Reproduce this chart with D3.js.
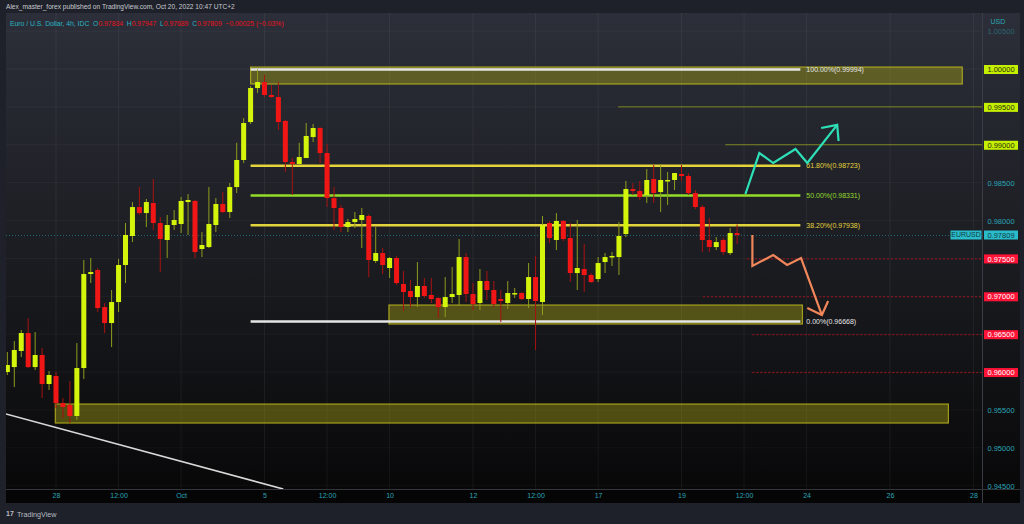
<!DOCTYPE html>
<html><head><meta charset="utf-8">
<script src="https://cdn.jsdelivr.net/npm/d3@7"></script>
<style>html,body{margin:0;padding:0;background:#1e212a;}svg{display:block;font-family:"Liberation Sans",Arial,sans-serif;}</style>
</head><body><svg id="c" width="1024" height="524"></svg>
<script>
// ---- data ----
const firstBar = -7; // bar index of first candle (0 = Sep 28 00:00, 4h bars, weekends skipped)
const opens = [0.96000,0.96066,0.96278,0.96515,0.96066,0.96225,0.95842,0.95948,0.95591,0.95565,
0.95420,0.96053,0.97294,0.97347,0.96858,0.96647,0.96924,0.97413,0.97796,0.98178,
0.98099,0.98231,0.97967,0.97743,0.97941,0.97954,0.98244,0.98258,0.97624,0.97650,
0.97941,0.98218,0.98112,0.98442,0.98799,0.99300,0.99749,0.99828,0.99657,0.99630,
0.99314,0.98772,0.98746,0.98825,0.99102,0.99221,0.98891,0.98297,0.98165,0.97914,
0.97980,0.98007,0.98060,0.97466,0.97571,0.97373,0.97505,0.97162,0.97070,0.96990,
0.97136,0.97017,0.96977,0.96858,0.96990,0.97017,0.97518,0.97030,0.96911,0.97202,
0.97083,0.96964,0.96911,0.97030,0.97043,0.96964,0.97254,0.96924,0.97967,0.97743,
0.97994,0.97769,0.97307,0.97360,0.97281,0.97228,0.97452,0.97518,0.97518,0.97822,
0.98416,0.98390,0.98337,0.98548,0.98376,0.98522,0.98535,0.98614,0.98588,0.98363,
0.98178,0.97743,0.97650,0.97743,0.97571,0.97834];
const highs = [0.96264,0.96410,0.96555,0.96713,0.96528,0.96317,0.96014,0.96000,0.95657,0.95882,
0.96383,0.97479,0.97505,0.97373,0.96911,0.97083,0.97492,0.97967,0.98244,0.98442,
0.98284,0.98548,0.98046,0.98073,0.98139,0.98310,0.98350,0.98271,0.97848,0.98442,
0.98297,0.98376,0.98495,0.99026,0.99353,0.99776,0.99994,0.99921,0.99789,0.99828,
0.99327,0.98825,0.99026,0.99287,0.99274,0.99234,0.99012,0.98442,0.98205,0.98020,
0.98112,0.98165,0.98086,0.97914,0.97637,0.97518,0.97532,0.97334,0.97215,0.97452,
0.97241,0.97241,0.96990,0.97254,0.97386,0.97756,0.97571,0.97175,0.97360,0.97334,
0.97202,0.97083,0.97202,0.97109,0.97056,0.97439,0.97532,0.98060,0.97994,0.98099,
0.98007,0.97967,0.98007,0.97690,0.97307,0.97518,0.97571,0.97584,0.97980,0.98522,
0.98495,0.98522,0.98680,0.98733,0.98746,0.98640,0.98627,0.98733,0.98627,0.98403,
0.98205,0.98033,0.97782,0.97769,0.97901,0.97947];
const lows = [0.95961,0.95802,0.96198,0.96053,0.96027,0.95657,0.95763,0.95525,0.95393,0.95327,
0.95367,0.95908,0.97175,0.96792,0.96515,0.96330,0.96792,0.97175,0.97716,0.98073,
0.97914,0.97875,0.97320,0.97505,0.97875,0.97835,0.97809,0.97505,0.97518,0.97637,
0.97848,0.98099,0.98033,0.98363,0.98759,0.99274,0.99683,0.99630,0.99617,0.99195,
0.98640,0.98337,0.98733,0.98825,0.99036,0.98759,0.98178,0.97875,0.97848,0.97848,
0.97901,0.97637,0.97254,0.97439,0.97294,0.97241,0.97149,0.96806,0.96858,0.96858,
0.96977,0.96911,0.96713,0.96726,0.96911,0.96885,0.96924,0.96819,0.96819,0.96951,
0.96858,0.96660,0.96832,0.96977,0.96951,0.96845,0.96291,0.96753,0.97703,0.97611,
0.97730,0.97188,0.97083,0.97056,0.97175,0.97188,0.97307,0.97400,0.97281,0.97782,
0.98337,0.98271,0.98231,0.98231,0.98112,0.98205,0.98403,0.98522,0.98337,0.98152,
0.97584,0.97584,0.97611,0.97545,0.97545,0.97689];
const closes = [0.96093,0.96291,0.96515,0.96066,0.96225,0.95842,0.95961,0.95591,0.95538,0.95420,
0.96053,0.97294,0.97320,0.96845,0.96647,0.96924,0.97413,0.97809,0.98178,0.98099,
0.98244,0.97967,0.97756,0.97941,0.98007,0.98258,0.98271,0.97584,0.97677,0.97954,
0.98218,0.98112,0.98442,0.98799,0.99287,0.99749,0.99828,0.99657,0.99630,0.99300,
0.98772,0.98746,0.98838,0.99116,0.99221,0.98891,0.98297,0.98165,0.97914,0.97980,
0.98020,0.98073,0.97479,0.97571,0.97413,0.97505,0.97175,0.97056,0.96990,0.97136,
0.97004,0.96964,0.96858,0.96990,0.97030,0.97518,0.97030,0.96898,0.97202,0.97083,
0.96898,0.96938,0.97043,0.97043,0.96964,0.97254,0.96938,0.97941,0.97769,0.97994,
0.97756,0.97307,0.97373,0.97281,0.97188,0.97439,0.97518,0.97532,0.97796,0.98416,
0.98390,0.98310,0.98535,0.98363,0.98535,0.98535,0.98627,0.98588,0.98363,0.98178,
0.97743,0.97650,0.97716,0.97584,0.97835,0.97809];

const timeTickBars = [0,9,18,30,39,48,60,69,78,90,99,108,120,132];
const timeTickLabels = ["28","12:00","Oct","5","12:00","10","12","12:00","17","19","12:00","24","26","28"];
const priceTicks = [0.945,0.950,0.955,0.960,0.965,0.970,0.975,0.980,0.985,0.990,0.995,1.000,1.005];
const limeLevels = [1.000,0.995,0.990];
const redLevels = [0.975,0.970,0.965,0.960];

const fibPrices = [0.99994,0.98723,0.98331,0.97938,0.96668];
const fibLabels = ["100.00%(0.99994)","61.80%(0.98723)","50.00%(0.98331)","38.20%(0.97938)","0.00%(0.96668)"];
const fibColors = ["#e6e6e6","#e3d43c","#95dc28","#e3d43c","#e6e6e6"];
const fibStartBar = 28, fibEndBar = 107.1;

// zones: [startBar, endBar, topPrice, bottomPrice]
const zoneStart = [28, 47.9, -0.1];
const zoneEnd = [130.4, 107.4, 128.4];
const zoneTop = [1.00026, 0.96885, 0.95578];
const zoneBottom = [0.99802, 0.96634, 0.95327];

// thin olive levels and red dotted levels
const oliveLevels = [0.995, 0.990];
const oliveStartBars = [80.9, 96.3];
const dottedLevels = [0.975, 0.970, 0.965, 0.960];
const dottedStartBars = [99.4, 93.1, 100.2, 100.2];

const lastPrice = 0.97809;

// trend line (bar, price)
const trendBars = [-7.2, 32.7];
const trendPrices = [0.95446, 0.94456];

// projected paths (bar, price)
const upBars = [99.2, 101.2, 103.2, 106.4, 108.1, 112.4];
const upPrices = [0.98350, 0.98891, 0.98759, 0.98944, 0.98759, 0.99262];
const upHeadBars = [110.1, 112.4, 112.6];
const upHeadPrices = [0.99221, 0.99262, 0.99050];
const downBars = [100.2, 100.2, 103.2, 105.2, 107.2, 110.2];
const downPrices = [0.97809, 0.97400, 0.97545, 0.97413, 0.97505, 0.96753];
const downHeadBars = [108.1, 110.2, 111.1];
const downHeadPrices = [0.96845, 0.96753, 0.96938];

// ---- drawing ----
const svg = d3.select("#c");
const L = 6, R = 982.5, T = 13, B = 489;
const x = d3.scaleLinear().domain([0, 132]).range([56, 973.4]);
const y = d3.scaleLinear().domain([0.945, 1.0]).range([485.7, 69]);

const defs = svg.append("defs");
const g1 = defs.append("linearGradient").attr("id","bg").attr("x1",0).attr("y1",0).attr("x2",0).attr("y2",1);
g1.append("stop").attr("offset","0%").attr("stop-color","#2c2f39");
g1.append("stop").attr("offset","50%").attr("stop-color","#1c1d22");
g1.append("stop").attr("offset","100%").attr("stop-color","#080809");
defs.append("clipPath").attr("id","clip").append("rect").attr("x",L).attr("y",T).attr("width",R-L).attr("height",B-T);

// frame
svg.append("rect").attr("width",1024).attr("height",524).attr("fill","#1e212a");
svg.append("rect").attr("x",L).attr("y",T).attr("width",1020-L).attr("height",B-T).attr("fill","url(#bg)");
svg.append("rect").attr("x",L).attr("y",B).attr("width",1020-L).attr("height",14).attr("fill","#050506");

const plot = svg.append("g").attr("clip-path","url(#clip)");

// grid
plot.selectAll(".vg").data(timeTickBars).join("line")
  .attr("x1",d=>x(d)).attr("x2",d=>x(d)).attr("y1",T).attr("y2",B)
  .attr("stroke","rgba(255,255,255,0.055)").attr("stroke-width",1);
plot.selectAll(".hg").data(priceTicks).join("line")
  .attr("x1",L).attr("x2",R).attr("y1",d=>y(d)).attr("y2",d=>y(d))
  .attr("stroke","rgba(255,255,255,0.04)").attr("stroke-width",1);

// zones
plot.selectAll(".zone").data(zoneStart).join("rect")
  .attr("x",(d,i)=>x(d)).attr("width",(d,i)=>x(zoneEnd[i])-x(d))
  .attr("y",(d,i)=>y(zoneTop[i])).attr("height",(d,i)=>y(zoneBottom[i])-y(zoneTop[i]))
  .attr("fill","rgba(170,165,20,0.42)").attr("stroke","rgba(200,195,30,0.75)").attr("stroke-width",1.2);

// olive thin lines
plot.selectAll(".ol").data(oliveLevels).join("line")
  .attr("x1",(d,i)=>x(oliveStartBars[i])).attr("x2",R).attr("y1",d=>y(d)).attr("y2",d=>y(d))
  .attr("stroke","rgba(150,165,30,0.75)").attr("stroke-width",1);
// red dotted
plot.selectAll(".rd").data(dottedLevels).join("line")
  .attr("x1",(d,i)=>x(dottedStartBars[i])).attr("x2",R).attr("y1",d=>y(d)+0.5).attr("y2",d=>y(d)+0.5)
  .attr("stroke","#a8101c").attr("stroke-width",1).attr("stroke-dasharray","2,2");
// last price line
plot.append("line").attr("x1",L).attr("x2",R).attr("y1",y(lastPrice)+0.5).attr("y2",y(lastPrice)+0.5)
  .attr("stroke","#1f6a73").attr("stroke-width",1).attr("stroke-dasharray","1,2");

// fib lines
plot.selectAll(".fib").data(fibPrices).join("line")
  .attr("x1",x(fibStartBar)).attr("x2",x(fibEndBar)).attr("y1",d=>y(d)).attr("y2",d=>y(d))
  .attr("stroke",(d,i)=>fibColors[i]).attr("stroke-width",2.4);
plot.selectAll(".fibt").data(fibPrices).join("text")
  .attr("x",x(fibEndBar)+6).attr("y",d=>y(d)).attr("dy","0.35em")
  .attr("fill",(d,i)=>fibColors[i]).attr("font-size","7px").text((d,i)=>fibLabels[i]);

// trend line
plot.append("line").attr("x1",x(trendBars[0])).attr("y1",y(trendPrices[0]))
  .attr("x2",x(trendBars[1])).attr("y2",y(trendPrices[1]))
  .attr("stroke","#d8d8d8").attr("stroke-width",1.6);

// candles
const candles = opens.map((o,i)=>({i:firstBar+i,o,h:highs[i],l:lows[i],c:closes[i]}));
const up = "#d4f40c", dn = "#f01616";
plot.selectAll(".wick").data(candles).join("line")
  .attr("x1",d=>x(d.i)).attr("x2",d=>x(d.i)).attr("y1",d=>y(d.h)).attr("y2",d=>y(d.l))
  .attr("stroke",d=>d.c>=d.o?"#8f9c1c":"#a81212").attr("stroke-width",1);
plot.selectAll(".body").data(candles).join("rect")
  .attr("x",d=>x(d.i)-2.5).attr("width",5)
  .attr("y",d=>y(Math.max(d.o,d.c))).attr("height",d=>Math.max(1.5,Math.abs(y(d.o)-y(d.c))))
  .attr("fill",d=>d.c>=d.o?up:dn);

// projection arrows
const line = d3.line().x(d=>x(d[0])).y(d=>y(d[1]));
plot.append("path").attr("d",line(upBars.map((b,i)=>[b,upPrices[i]]))).attr("fill","none")
  .attr("stroke","#2ee0b8").attr("stroke-width",2.2).attr("stroke-linejoin","miter");
plot.append("path").attr("d",line(upHeadBars.map((b,i)=>[b,upHeadPrices[i]]))).attr("fill","none")
  .attr("stroke","#2ee0b8").attr("stroke-width",2.2);
plot.append("path").attr("d",line(downBars.map((b,i)=>[b,downPrices[i]]))).attr("fill","none")
  .attr("stroke","#f0875a").attr("stroke-width",2.2);
plot.append("path").attr("d",line(downHeadBars.map((b,i)=>[b,downHeadPrices[i]]))).attr("fill","none")
  .attr("stroke","#f0875a").attr("stroke-width",2.2);

// separators
svg.append("line").attr("x1",R).attr("x2",R).attr("y1",T).attr("y2",B+14).attr("stroke","#3a3d46");
svg.append("line").attr("x1",L).attr("x2",1020).attr("y1",B+0.5).attr("y2",B+0.5).attr("stroke","#34363d");

// price axis
const pa = svg.append("g").attr("transform",`translate(${R},0)`)
  .call(d3.axisRight(y).tickValues(priceTicks).tickFormat(d3.format(".5f")).tickSize(0).tickPadding(0));
pa.select(".domain").remove();
pa.selectAll(".tick").each(function(d){
  const t = d3.select(this);
  const isLime = limeLevels.some(v=>Math.abs(v-d)<1e-6);
  const isRed = redLevels.some(v=>Math.abs(v-d)<1e-6);
  if(isLime||isRed){
    t.insert("rect","text").attr("x",1.5).attr("y",-4.5).attr("width",34).attr("height",9)
      .attr("fill",isLime?"#c4f000":"#ff1438");
  }
  t.select("text").attr("x",18.5).attr("text-anchor","middle").attr("dy","0.35em")
    .attr("font-size","7.5px").attr("font-family","Liberation Sans, Arial, sans-serif")
    .attr("fill",isLime?"#2a2a10":isRed?"#ffffff":"#2aa6b6")
    .attr("opacity",Math.abs(d-1.005)<1e-6?0.45:1);
});
// last price label
const lp = svg.append("g").attr("transform",`translate(${R},${y(lastPrice)})`);
lp.append("rect").attr("x",1.5).attr("y",-4.5).attr("width",34).attr("height",9).attr("fill","#2bbccc");
lp.append("text").attr("x",18.5).attr("dy","0.35em").attr("text-anchor","middle").attr("font-size","7.5px").attr("fill","#0f3a40").text(d3.format(".5f")(lastPrice));
const sl = svg.append("g").attr("transform",`translate(${R},${y(lastPrice)})`);
sl.append("rect").attr("x",-32).attr("y",-4.5).attr("width",31).attr("height",9).attr("fill","#2bbccc");
sl.append("text").attr("x",-16.5).attr("dy","0.35em").attr("text-anchor","middle").attr("font-size","7px").attr("fill","#0f3a40").text("EURUSD");
svg.append("text").attr("x",R+8).attr("y",22).attr("dy","0.35em").attr("font-size","7px").attr("fill","#2aa6b6").text("USD");

// time axis
const ta = svg.append("g").attr("transform",`translate(0,${B})`)
  .call(d3.axisBottom(x).tickValues(timeTickBars).tickFormat((d,i)=>timeTickLabels[i]).tickSize(0).tickPadding(0));
ta.select(".domain").remove();
ta.selectAll("text").attr("y",7).attr("dy","0.35em").attr("font-size","7px")
  .attr("font-family","Liberation Sans, Arial, sans-serif").attr("fill","#2aa6b6");

// header
svg.append("text").attr("x",6).attr("y",7).attr("dy","0.35em").attr("font-size","6.6px").attr("fill","#c8cad0")
  .text("Alex_master_forex published on TradingView.com, Oct 20, 2022 10:47 UTC+2");
const lg = svg.append("text").attr("x",10).attr("y",24).attr("dy","0.35em").attr("font-size","6.8px");
const teal = "#2ab3c4", red = "#e8101e";
[["Euro / U.S. Dollar, 4h, IDC  ",teal],["O",teal],["0.97834  ",red],["H",teal],["0.97947  ",red],["L",teal],["0.97689  ",red],["C",teal],["0.97809  −0.00025 (−0.03%)",red]]
  .forEach(p=>lg.append("tspan").attr("fill",p[1]).attr("xml:space","preserve").text(p[0]));

// footer
const ft = svg.append("g").attr("transform","translate(6,514)");
ft.append("text").attr("x",0).attr("dy","0.35em").attr("font-size","7px").attr("font-weight","bold").attr("fill","#b8bbc2").text("17");
ft.append("text").attr("x",11).attr("dy","0.35em").attr("font-size","7.2px").attr("fill","#b8bbc2").text("TradingView");
</script></body></html>
